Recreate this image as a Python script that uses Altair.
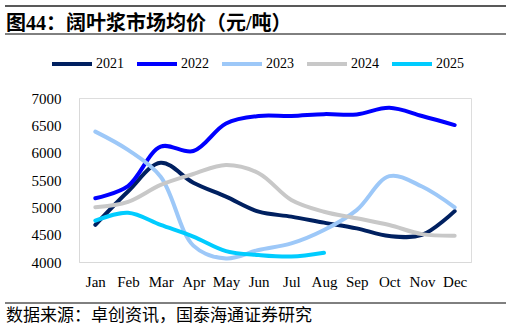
import altair as alt
import pandas as pd

months = ["Jan", "Feb", "Mar", "Apr", "May", "Jun", "Jul", "Aug", "Sep", "Oct", "Nov", "Dec"]
years = ["2021", "2022", "2023", "2024", "2025"]
v2021 = [4680, 5290, 5815, 5450, 5195, 4920, 4830, 4720, 4615, 4475, 4495, 4930]
v2022 = [5165, 5390, 6110, 6030, 6535, 6670, 6670, 6705, 6700, 6820, 6670, 6505]
v2023 = [6385, 6050, 5560, 4300, 4065, 4220, 4340, 4585, 4950, 5570, 5380, 5000]
v2024 = [5000, 5100, 5410, 5610, 5775, 5625, 5135, 4920, 4800, 4677, 4510, 4480]
v2025 = [4757, 4900, 4677, 4465, 4200, 4128, 4100, 4170]
colors = ["#002060", "#0000FF", "#9DC8F8", "#C8C8C8", "#00CCFF"]

title_text = "图44：阔叶浆市场均价（元/吨）"
source_text = "数据来源：卓创资讯，国泰海通证券研究"

rows = []
for y, vals in zip(years, [v2021, v2022, v2023, v2024, v2025]):
    for m, v in zip(months, vals):
        rows.append({"month": m, "year": y, "value": v})
df = pd.DataFrame(rows)

SERIF = "Liberation Serif, Noto Sans CJK SC"

lines = alt.Chart(df).mark_line(strokeWidth=4, interpolate="catmull-rom", strokeCap="round").encode(
    x=alt.X("month:O", sort=months, scale=alt.Scale(type="point", padding=0.5),
            axis=alt.Axis(title=None, labelAngle=0, ticks=False, labelPadding=12, domainColor="#D9D9D9",
                          labelFont=SERIF, labelFontSize=15, labelColor="#000000")),
    y=alt.Y("value:Q", scale=alt.Scale(domain=[4000, 7000], nice=False, zero=False),
            axis=alt.Axis(title=None, values=[4000, 4500, 5000, 5500, 6000, 6500, 7000], grid=False,
                          format="d", ticks=False, labelPadding=18, domainColor="#D9D9D9",
                          labelFont=SERIF, labelFontSize=15, labelColor="#000000")),
    color=alt.Color("year:N", scale=alt.Scale(domain=years, range=colors),
                    legend=alt.Legend(title=None, orient="none", direction="horizontal",
                                      legendX=-29, legendY=-56, symbolType="stroke",
                                      symbolSize=1600, symbolStrokeWidth=4,
                                      labelFont=SERIF, labelFontSize=14, labelColor="#000000",
                                      labelOffset=2, columnPadding=5)),
)

one = pd.DataFrame({"a": [0]})
top_line = alt.Chart(one).mark_rule(color="#595959", strokeWidth=2).encode(
    x=alt.value(-74), x2=alt.value(427), y=alt.value(-92))
mid_line = alt.Chart(one).mark_rule(color="#000000", strokeWidth=1).encode(
    x=alt.value(-74), x2=alt.value(427), y=alt.value(-64))
bot_line = alt.Chart(one).mark_rule(color="#000000", strokeWidth=1).encode(
    x=alt.value(-74), x2=alt.value(427), y=alt.value(205))
title = alt.Chart(pd.DataFrame({"t": [title_text]})).mark_text(
    align="left", baseline="middle", font=SERIF, fontSize=20, fontWeight="bold", color="#000000"
).encode(text="t:N", x=alt.value(-73), y=alt.value(-74))
source = alt.Chart(pd.DataFrame({"t": [source_text]})).mark_text(
    align="left", baseline="middle", font=SERIF, fontSize=17, color="#000000"
).encode(text="t:N", x=alt.value(-73), y=alt.value(218))

chart = alt.layer(lines, top_line, mid_line, bot_line, title, source).properties(
    width=392, height=164, autosize=alt.AutoSizeParams(type="none"),
    padding={"left": 79, "top": 98, "right": 41, "bottom": 68},
).configure_view(stroke=None).configure(background="#FFFFFF")

chart.save("out.html", embed_options={"renderer": "svg", "actions": False})
